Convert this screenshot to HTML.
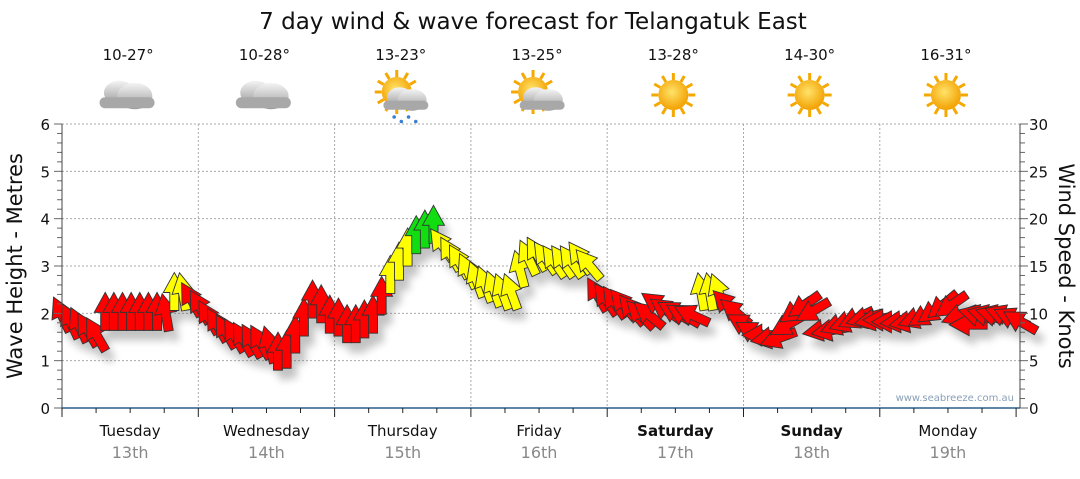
<!DOCTYPE html>
<html><head><meta charset="utf-8"><style>
body{margin:0;background:#fff;width:1080px;height:475px;overflow:hidden;font-family:"DejaVu Sans",sans-serif}
</style></head><body>
<svg id="chart" width="1080" height="475" viewBox="0 0 1080 475" font-family="DejaVu Sans, Liberation Sans, sans-serif">
<defs>
<filter id="sh" x="-50%" y="-50%" width="200%" height="200%"><feGaussianBlur stdDeviation="4"/></filter>
<radialGradient id="sun" cx="45%" cy="40%" r="60%"><stop offset="0" stop-color="#ffe36a"/><stop offset="1" stop-color="#f2a000"/></radialGradient>
<linearGradient id="cloud" x1="0" y1="0" x2="0" y2="1"><stop offset="0" stop-color="#f4f4f4"/><stop offset="1" stop-color="#9a9a9a"/></linearGradient>
</defs>
<text x="533" y="29" font-size="23" text-anchor="middle" fill="#111">7 day wind &amp; wave forecast for Telangatuk East</text>
<g id="header"></g>
<g id="grid"></g>
<g id="shadows" filter="url(#sh)" opacity="0.35"></g>
<g id="arrows"></g>
<g id="axes"></g>
<text transform="translate(22,266) rotate(-90)" font-size="21" text-anchor="middle" fill="#111">Wave Height - Metres</text>
<text transform="translate(1059,266) rotate(90)" font-size="21" text-anchor="middle" fill="#111">Wind Speed - Knots</text>
<text x="1014" y="401" font-size="10" text-anchor="end" fill="#8aa0b8">www.seabreeze.com.au</text>
</svg>
<script>
const days=["Tuesday","Wednesday","Thursday","Friday","Saturday","Sunday","Monday"];
const dates=["13th","14th","15th","16th","17th","18th","19th"];
const temps=["10-27°","10-28°","13-23°","13-25°","13-28°","14-30°","16-31°"];
const icons=["cloud","cloud","rain","partsun","sun","sun","sun"];
const boldDays=[false,false,false,false,true,true,false];
const leftTicks=[0,1,2,3,4,5,6];
const rightTicks=[0,5,10,15,20,25,30];
const windKnots=[9.8,9.1,8.7,8.2,7.7,10.1,10.1,10.1,10.1,10.1,10.1,10.1,10,12.2,12.2,11.4,
10.6,9.5,8.7,8.0,7.6,7.2,7.0,6.9,6.6,5.9,6.1,7.7,9.5,11.4,10.9,9.8,
9.5,8.8,8.8,9.3,9.8,11.8,14,15.4,16.9,18.2,18.8,19.3,17.2,16.2,15.4,14.4,
13.5,13,12.5,12.2,12.2,14.6,15.8,16.2,15.8,15.4,15.4,15.4,15.8,15.1,
11.9,11.4,11.1,10.9,10.3,9.8,9.8,10.9,10.3,10.1,9.8,9.8,12.2,12.2,12.2,10.9,10.1,
8.8,8.0,7.7,7.4,7.4,8.8,10.3,10.9,10.3,8.2,8.2,8.8,9.1,9.5,9.5,9.3,
9.3,9.1,9.1,9.1,9.5,9.8,10.3,10.9,10.9,9.8,8.8,9.8,9.8,9.8,9.8,9.5,9.1];
const windDir=[-25,-25,-25,-30,-30,0,0,0,0,0,0,0,-10,0,-10,-30,
-30,-30,-30,-30,-30,-30,-30,-30,-15,0,0,0,0,0,0,0,
0,0,0,0,0,0,0,0,0,0,0,0,-35,-30,-30,-25,
-20,-20,-20,-20,-20,-15,-25,-30,-35,-35,-35,-35,-35,-40,
-30,-35,-35,-40,-40,-45,-50,-55,-55,-60,-60,-65,-10,-10,-20,-45,-50,
-60,-60,-90,-100,-110,-120,-125,-125,-120,-100,-100,-110,-110,-115,-105,-100,
-90,-90,-95,-100,-110,-120,-125,-130,-125,-110,-90,-75,-75,-75,-70,-65,-60];
const NS="http://www.w3.org/2000/svg";
const X0=62,X1=1020,Y0=408,Y1=124,DW=136.3;
const yM=m=>Y0-(m/6)*(Y0-Y1);
const yK=k=>Y0-(k/30)*(Y0-Y1);
const xI=i=>X0+i*(1021-X0)/(windKnots.length-1);
function el(t,a,p){const e=document.createElementNS(NS,t);for(const k in a)e.setAttribute(k,a[k]);p.appendChild(e);return e;}
const grid=document.getElementById('grid'),axes=document.getElementById('axes'),hdr=document.getElementById('header');
leftTicks.forEach(v=>{if(v>0){const g=el('line',{x1:X0,x2:X1,y1:yM(v),y2:yM(v),stroke:'#aaa','stroke-dasharray':'2,2'},grid);

}
const t=el('text',{x:50,y:yM(v)+6,'font-size':15,'text-anchor':'end',fill:'#111'},axes);t.textContent=v;

});
for(let m=0;m<=30;m++){const v=m/5;el('line',{x1:v%1===0?X0-8:X0-5,x2:X0,y1:yM(v),y2:yM(v),stroke:'#666'},axes);}
rightTicks.forEach(v=>{const t=el('text',{x:1029,y:yK(v)+6,'font-size':15,fill:'#111'},axes);t.textContent=v;


});
for(let k=0;k<=30;k++)el('line',{x1:X1,x2:X1+(k%5===0?8:5),y1:yK(k),y2:yK(k),stroke:'#666'},axes);
for(let d=1;d<7;d++){const g=el('line',{x1:X0+d*DW,x2:X0+d*DW,y1:Y1,y2:Y0,stroke:'#aaa','stroke-dasharray':'2,2'},grid);

}
el('line',{x1:X0,x2:X0,y1:Y1,y2:Y0,stroke:'#444'},axes);
el('line',{x1:X1,x2:X1,y1:Y1,y2:Y0,stroke:'#444'},axes);
el('line',{x1:X0,x2:X1,y1:Y0,y2:Y0,stroke:'#2a5f8a','stroke-width':1.5},axes);
for(let q=0;q<=28;q++){const x=X0+q*DW/4;el('line',{x1:x,x2:x,y1:Y0,y2:Y0+(q%4===0?9:5),stroke:'#222'},axes);}
days.forEach((d,i)=>{const cx=X0+DW*(i+0.5);
const t=el('text',{x:cx,y:436,'font-size':15,'text-anchor':'middle',fill:'#111','font-weight':boldDays[i]?'bold':'normal'},axes);t.textContent=d;


const t2=el('text',{x:cx,y:458,'font-size':16,'text-anchor':'middle',fill:'#888'},axes);t2.textContent=dates[i];


const t3=el('text',{x:cx-2,y:60,'font-size':15,'text-anchor':'middle',fill:'#111'},hdr);t3.textContent=temps[i];


const g=el('g',{transform:`translate(${cx-2},95)`},hdr);


const ic=icons[i];
if(ic!=='cloud'){for(let r=0;r<12;r++){const a=r*30*Math.PI/180;el('line',{x1:Math.cos(a)*15+(ic==='sun'?0:-4),y1:Math.sin(a)*15-(ic==='sun'?0:3),x2:Math.cos(a)*22+(ic==='sun'?0:-4),y2:Math.sin(a)*22-(ic==='sun'?0:3),stroke:'#f5a800','stroke-width':3},g);}
el('circle',{cx:ic==='sun'?0:-4,cy:ic==='sun'?0:-3,r:15,fill:'url(#sun)'},g);}
if(ic!=='sun'){const s=ic==='cloud'?1.1:0.9,ox=ic==='cloud'?0:6,oy=ic==='cloud'?0:4;
const cg=el('g',{transform:`translate(${ox},${oy}) scale(${s})`},g);
el('ellipse',{cx:-8,cy:-2,rx:14,ry:11,fill:'url(#cloud)'},cg);
el('ellipse',{cx:6,cy:1,rx:16,ry:12,fill:'url(#cloud)'},cg);
el('rect',{x:-26,y:2,width:50,height:10,rx:5,fill:'#a8a8a8'},cg);
if(ic==='rain'){for(let r=0;r<4;r++)el('circle',{cx:-14+r*8,cy:20+(r%2)*5,r:2,fill:'#3a7fd0'},cg);}}
});
const shp="0,-20 11,0 4.5,0 4.5,18 -4.5,18 -4.5,0 -11,0";
const sg=document.getElementById('shadows'),ag=document.getElementById('arrows');
windKnots.forEach((k,i)=>{const x=xI(i),y=yK(k),a=windDir[i];
el('polygon',{points:shp,fill:'#555',transform:`translate(${x+6},${y+10}) rotate(${a})`},sg);
const col=k>=18?'#11dd11':k>=12?'#ffff00':'#ff0000';
const p=el('polygon',{points:shp,fill:col,stroke:'#333','stroke-width':0.9,transform:`translate(${x},${y}) rotate(${a})`},ag);


});
</script>
</body></html>
